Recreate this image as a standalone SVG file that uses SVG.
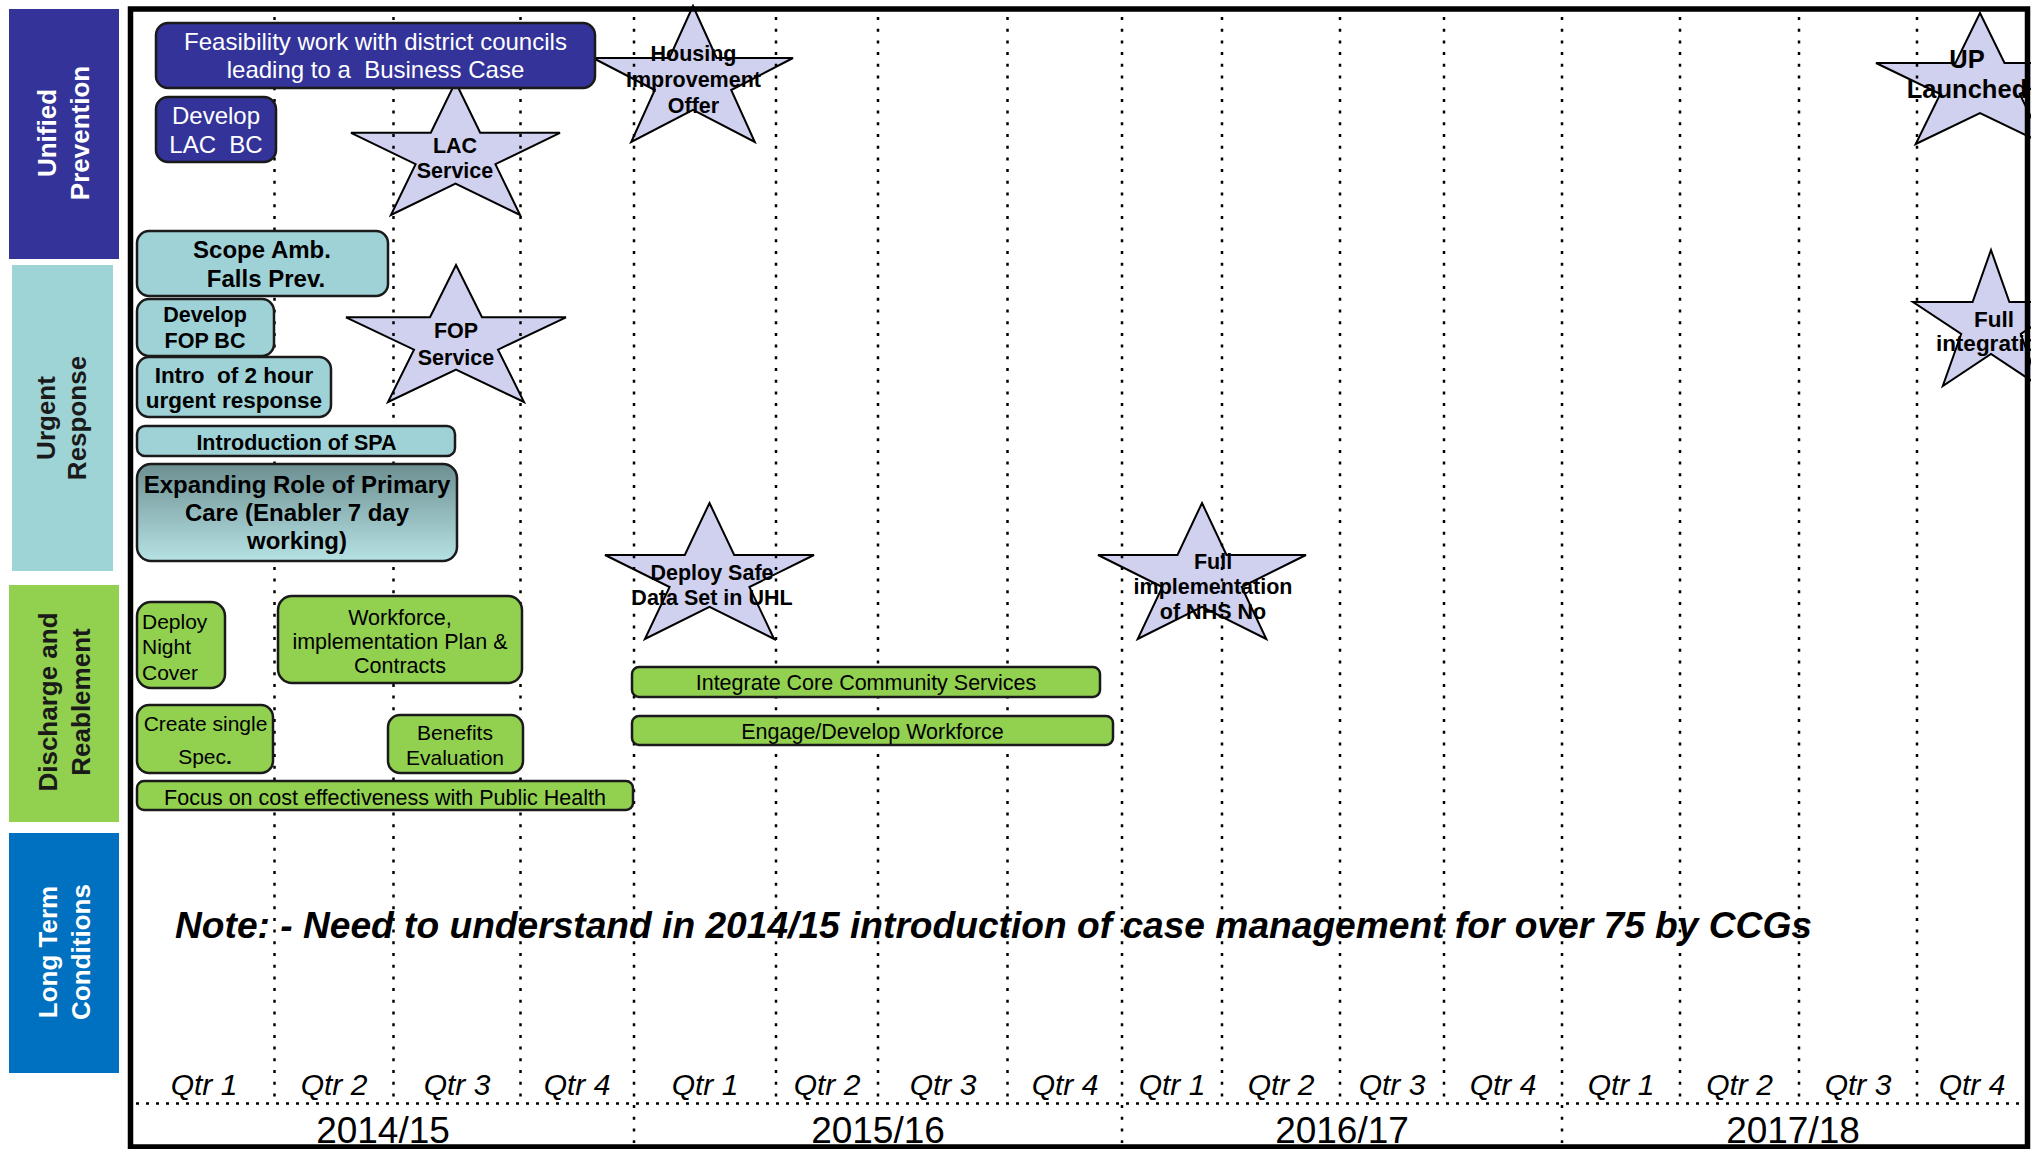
<svg xmlns="http://www.w3.org/2000/svg" width="2031" height="1149" viewBox="0 0 2031 1149">
<defs>
<style>
text{font-family:"Liberation Sans",Arial,sans-serif}
.cat{font-weight:bold;font-size:26px;text-anchor:middle}
.box{stroke:#1a1a1a;stroke-width:2.5}
.blue{fill:#333399}
.teal{fill:#9fd2d6}
.green{fill:#92d050}
.star{fill:#d0d0ef;stroke:#000;stroke-width:2;stroke-linejoin:miter}
.c{text-anchor:middle}
.wt{fill:#fff;font-size:24px}
.bt{font-weight:bold;fill:#000}
.st{font-weight:bold;font-size:21.5px;text-anchor:middle;fill:#000}
.gt{font-size:21.5px;fill:#000}
.grid line{stroke:#000;stroke-width:2.5;stroke-dasharray:3 8.7}
.hgrid{stroke:#000;stroke-width:2.5;stroke-dasharray:3 7}
.q{font-style:italic;font-size:30px;text-anchor:middle;fill:#000}
.yr{font-size:37px;text-anchor:middle;fill:#000}
</style>
<linearGradient id="gPrim" x1="0" y1="0" x2="0" y2="1">
<stop offset="0" stop-color="#6d8f91"/>
<stop offset="1" stop-color="#b6e2e4"/>
</linearGradient>
</defs>
<rect x="0" y="0" width="2031" height="1149" fill="#fff"/>

<g id="lane-unified-prevention">
<rect x="9" y="9" width="110" height="250" fill="#333399"/>
<text class="cat" fill="#fff" transform="translate(56,133) rotate(-90)">Unified</text>
<text class="cat" fill="#fff" transform="translate(89,133) rotate(-90)">Prevention</text>
</g>
<g id="lane-urgent-response">
<rect x="12" y="265" width="101" height="306" fill="#9fd4d7"/>
<text class="cat" fill="#1a1a1a" transform="translate(55,418) rotate(-90)">Urgent</text>
<text class="cat" fill="#1a1a1a" transform="translate(86,418) rotate(-90)">Response</text>
</g>
<g id="lane-discharge">
<rect x="9" y="585" width="110" height="237" fill="#92d050"/>
<text class="cat" fill="#1a1a1a" transform="translate(57,702) rotate(-90)">Discharge and</text>
<text class="cat" fill="#1a1a1a" transform="translate(90,702) rotate(-90)">Reablement</text>
</g>
<g id="lane-long-term">
<rect x="9" y="833" width="110" height="240" fill="#0070c0"/>
<text class="cat" fill="#fff" transform="translate(57,952) rotate(-90)">Long Term</text>
<text class="cat" fill="#fff" transform="translate(90,952) rotate(-90)">Conditions</text>
</g>

<g id="star-lac-service">
<polygon class="star" points="455.5,82 480.2,132.8 560,132.8 495.4,164.2 520.1,215 455.5,183.6 390.9,215 415.6,164.2 351,132.8 430.8,132.8"/>
<text class="st" x="455" y="153">LAC</text>
<text class="st" x="455" y="178">Service</text>
</g>
<g id="star-housing">
<polygon class="star" points="693,6 716.6,58 793,58 731.2,90 754.8,142 693,109.9 631.2,142 654.8,90 593,58 669.4,58"/>
<text class="st" x="693.5" y="61">Housing</text>
<text class="st" x="693.5" y="87">Improvement</text>
<text class="st" x="693.5" y="112.5">Offer</text>
</g>
<g id="star-up-launched">
<polygon class="star" points="1980,13 2004.5,63 2084,63 2019.7,94 2044.3,144 1980,113.1 1915.7,144 1940.3,94 1876,63 1955.5,63"/>
<text class="st" style="font-size:25.5px" x="1967" y="68">UP</text>
<text class="st" style="font-size:25.5px" x="1967" y="98">Launched</text>
</g>
<g id="star-fop-service">
<polygon class="star" points="456,265 482,317.3 566,317.3 498,349.7 524,402 456,369.7 388,402 414,349.7 346,317.3 430,317.3"/>
<text class="st" x="456" y="338">FOP</text>
<text class="st" x="456" y="365">Service</text>
</g>
<g id="star-full-integration">
<polygon class="star" points="1991,250 2009.4,302 2069,302 2020.8,334 2039.2,386 1991,353.9 1942.8,386 1961.2,334 1913,302 1972.6,302"/>
<text class="st" style="font-size:22.5px" x="1994" y="327">Full</text>
<text class="st" style="font-size:22.5px" x="1994" y="351">integration</text>
</g>
<g id="star-deploy-safe">
<polygon class="star" points="709.5,503 734.2,555 814,555 749.4,587 774.1,639 709.5,606.9 644.9,639 669.6,587 605,555 684.8,555"/>
<text class="st" x="712" y="580">Deploy Safe</text>
<text class="st" x="712" y="605">Data Set in UHL</text>
</g>
<g id="star-nhs-no">
<polygon class="star" points="1202,503 1226.5,555 1306,555 1241.7,587 1266.3,639 1202,606.9 1137.7,639 1162.3,587 1098,555 1177.5,555"/>
<text class="st" x="1213" y="569">Full</text>
<text class="st" x="1213" y="594">implementation</text>
<text class="st" x="1213" y="619">of NHS No</text>
</g>

<g id="grid" class="grid">
<line x1="274.5" y1="17" x2="274.5" y2="1101"/>
<line x1="393.5" y1="17" x2="393.5" y2="1101"/>
<line x1="520.5" y1="17" x2="520.5" y2="1101"/>
<line x1="634" y1="17" x2="634" y2="1143"/>
<line x1="776" y1="17" x2="776" y2="1101"/>
<line x1="878" y1="17" x2="878" y2="1101"/>
<line x1="1007.5" y1="17" x2="1007.5" y2="1101"/>
<line x1="1122" y1="17" x2="1122" y2="1143"/>
<line x1="1222" y1="17" x2="1222" y2="1101"/>
<line x1="1340" y1="17" x2="1340" y2="1101"/>
<line x1="1444" y1="17" x2="1444" y2="1101"/>
<line x1="1562" y1="17" x2="1562" y2="1143"/>
<line x1="1680" y1="17" x2="1680" y2="1101"/>
<line x1="1799" y1="17" x2="1799" y2="1101"/>
<line x1="1917" y1="17" x2="1917" y2="1101"/>
<line class="hgrid" x1="136" y1="1103.5" x2="2022" y2="1103.5" style="stroke-dasharray:3 7"/>
</g>

<g id="box-feasibility">
<rect class="box blue" x="156" y="23" width="439" height="65" rx="12"/>
<text class="c wt" xml:space="preserve" x="375.5" y="50">Feasibility work with district councils</text>
<text class="c wt" xml:space="preserve" x="375.5" y="78">leading to a  Business Case</text>
</g>
<g id="box-develop-lac">
<rect class="box blue" x="156" y="97" width="120" height="65" rx="12"/>
<text class="c wt" x="216" y="124">Develop</text>
<text class="c wt" xml:space="preserve" x="216" y="152.5">LAC  BC</text>
</g>
<g id="box-scope-amb">
<rect class="box teal" x="137" y="231" width="251" height="65" rx="12"/>
<text class="c bt" style="font-size:24px" x="262" y="258">Scope Amb.</text>
<text class="c bt" style="font-size:24px" x="266" y="287">Falls Prev.</text>
</g>
<g id="box-develop-fop">
<rect class="box teal" x="137" y="299" width="137" height="57" rx="12"/>
<text class="c bt" style="font-size:21.5px" x="205" y="322">Develop</text>
<text class="c bt" style="font-size:21.5px" x="205" y="348">FOP BC</text>
</g>
<g id="box-intro-2hour">
<rect class="box teal" x="137" y="357" width="194" height="60" rx="12"/>
<text class="c bt" style="font-size:22.5px" xml:space="preserve" x="234" y="382.5">Intro  of 2 hour</text>
<text class="c bt" style="font-size:22.5px" x="234" y="408">urgent response</text>
</g>
<g id="box-spa">
<rect class="box teal" x="137" y="426" width="318" height="30" rx="8"/>
<text class="c bt" style="font-size:21.5px" x="296.5" y="449.5">Introduction of SPA</text>
</g>
<g id="box-primary-care">
<rect class="box" fill="url(#gPrim)" x="137" y="464" width="320" height="97" rx="14"/>
<text class="c bt" style="font-size:24px" x="297" y="493">Expanding Role of Primary</text>
<text class="c bt" style="font-size:24px" x="297" y="521">Care (Enabler 7 day</text>
<text class="c bt" style="font-size:24px" x="297" y="549">working)</text>
</g>
<g id="box-night-cover">
<rect class="box green" x="137" y="602" width="88" height="86" rx="14"/>
<text class="gt" style="font-size:21px" x="142" y="628.5">Deploy</text>
<text class="gt" style="font-size:21px" x="142" y="654">Night</text>
<text class="gt" style="font-size:21px" x="142" y="679.5">Cover</text>
</g>
<g id="box-workforce-plan">
<rect class="box green" x="278" y="596" width="244" height="87" rx="14"/>
<text class="c gt" x="400" y="625">Workforce,</text>
<text class="c gt" x="400" y="649">implementation Plan &amp;</text>
<text class="c gt" x="400" y="673">Contracts</text>
</g>
<g id="box-create-spec">
<rect class="box green" x="137" y="705" width="136" height="68" rx="12"/>
<text class="c gt" style="font-size:21px" x="205.5" y="731">Create single</text>
<text class="c gt" style="font-size:21px" x="205" y="764">Spec<tspan font-weight="bold">.</tspan></text>
</g>
<g id="box-benefits">
<rect class="box green" x="388" y="715" width="135" height="58" rx="12"/>
<text class="c gt" style="font-size:21px" x="455" y="740">Benefits</text>
<text class="c gt" style="font-size:21px" x="455" y="765">Evaluation</text>
</g>
<g id="box-focus-cost">
<rect class="box green" x="137" y="781" width="496" height="29" rx="7"/>
<text class="c gt" x="385" y="804.5">Focus on cost effectiveness with Public Health</text>
</g>
<g id="box-integrate-core">
<rect class="box green" x="632" y="667" width="468" height="30" rx="7"/>
<text class="c gt" x="866" y="690">Integrate Core Community Services</text>
</g>
<g id="box-engage-workforce">
<rect class="box green" x="632" y="716" width="481" height="29" rx="7"/>
<text class="c gt" x="872.5" y="738.5">Engage/Develop Workforce</text>
</g>

<g id="note">
<text x="175" y="938" style="font-size:37px;font-weight:bold;font-style:italic" textLength="1637" lengthAdjust="spacingAndGlyphs">Note: - Need to understand in 2014/15 introduction of case management for over 75 by CCGs</text>
</g>

<g id="axis">
<text class="q" x="204" y="1095">Qtr 1</text>
<text class="q" x="334" y="1095">Qtr 2</text>
<text class="q" x="457" y="1095">Qtr 3</text>
<text class="q" x="577" y="1095">Qtr 4</text>
<text class="q" x="705" y="1095">Qtr 1</text>
<text class="q" x="827" y="1095">Qtr 2</text>
<text class="q" x="943" y="1095">Qtr 3</text>
<text class="q" x="1065" y="1095">Qtr 4</text>
<text class="q" x="1172" y="1095">Qtr 1</text>
<text class="q" x="1281" y="1095">Qtr 2</text>
<text class="q" x="1392" y="1095">Qtr 3</text>
<text class="q" x="1503" y="1095">Qtr 4</text>
<text class="q" x="1621" y="1095">Qtr 1</text>
<text class="q" x="1739.5" y="1095">Qtr 2</text>
<text class="q" x="1858" y="1095">Qtr 3</text>
<text class="q" x="1972" y="1095">Qtr 4</text>
<text class="yr" x="383" y="1143">2014/15</text>
<text class="yr" x="878" y="1143">2015/16</text>
<text class="yr" x="1342" y="1143">2016/17</text>
<text class="yr" x="1793" y="1143">2017/18</text>
</g>

<g id="frame">
<rect x="130.5" y="9" width="1897" height="1138" fill="none" stroke="#000" stroke-width="5.5"/>
</g>
</svg>
